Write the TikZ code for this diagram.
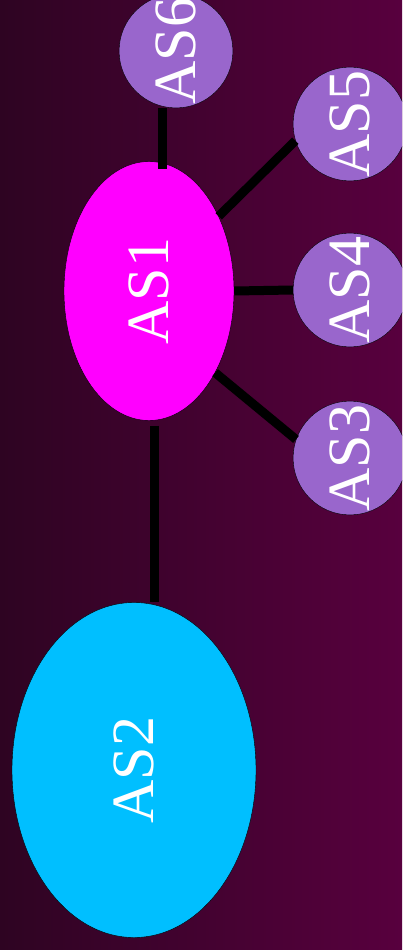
\documentclass[tikz,border=0pt]{standalone}
\usepackage{fontspec}
\setmainfont{Liberation Serif}
\usepackage{graphicx}
\usetikzlibrary{shapes.geometric}

\definecolor{bgleft}{RGB}{46,4,34}
\definecolor{bgright}{RGB}{88,0,62}
\definecolor{asviolet}{RGB}{153,102,204}
\definecolor{asmagenta}{RGB}{255,0,255}
\definecolor{asblue}{RGB}{0,191,255}

\begin{document}
\begin{tikzpicture}[x=1pt,y=1pt,
  asnode/.style={draw=black,thin,inner sep=0pt,text=white,font=\fontsize{60}{60}\selectfont},
  small/.style={asnode,circle,fill=asviolet,minimum size=110pt},
  big/.style={asnode,ellipse,fill=#1},
  link/.style={line width=9pt,black}]

\useasboundingbox (0,0) rectangle (402,-950);
\clip (0,0) rectangle (402,-950);
\shade[left color=bgleft,right color=bgright] (0,0) rectangle (402,-950);

% the two large systems
\node[big=asmagenta,minimum width=170pt,minimum height=259pt] (AS1) at (149,-291) {\rotatebox{90}{AS1}};
\node[big=asblue,minimum width=244pt,minimum height=335pt] (AS2) at (134,-770) {\rotatebox{90}{AS2}};

% small neighbours of AS1
\node[small] (AS6) at (176,-51) {\rotatebox{90}{AS6}};
\foreach\n/\y in {5/-124,4/-290,3/-458}
  \node[small] (AS\n) at (350,\y) {\rotatebox{90}{AS\n}};

\draw[link] ([xshift=-14pt]AS6.south) -- ([xshift=13pt,yshift=-8pt]AS1.north);
\draw[link] (AS1.47) -- (AS5.197);
\draw[link] (AS1.east) -- (AS4.west);
\draw[link] (AS1.309) -- (AS3.161);
\draw[link] ([xshift=5pt,yshift=-5pt]AS1.south) -- ([xshift=20pt]AS2.north);

\end{tikzpicture}
\end{document}
